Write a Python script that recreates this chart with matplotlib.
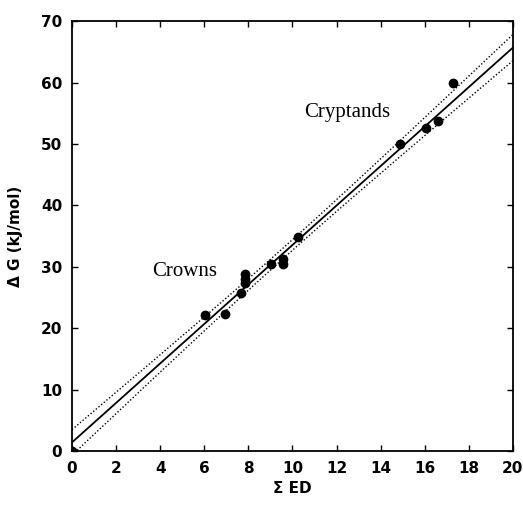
import numpy as np
import matplotlib
matplotlib.use("Agg")
import matplotlib.pyplot as plt

# Sum of ED values and binding free energies
sum_ed = [0.0, 6.05, 6.95, 7.67, 7.86, 7.86, 7.86, 9.03, 9.56, 9.56, 10.24,
          14.9, 16.08, 16.58, 17.26]
delta_g = [0.0, 22.1, 22.3, 25.7, 28.8, 28.0, 27.4, 30.5, 31.3, 30.5, 34.8,
           50.0, 52.6, 53.8, 60.0]

# fitted line
fit_intercept = 1.4
fit_slope = 3.215

x = np.array(sum_ed)
y = np.array(delta_g)

# 95% confidence band of the mean around the fitted line
n = len(x)
resid = y - (fit_slope * x + fit_intercept)
s = np.sqrt(np.sum(resid ** 2) / (n - 2))
sxx = np.sum((x - x.mean()) ** 2)
t_val = 2.3
xf = np.linspace(0, 20, 200)
yf = fit_slope * xf + fit_intercept
half = t_val * s * np.sqrt(1.0 / n + (xf - x.mean()) ** 2 / sxx)

fig = plt.figure(figsize=(5.23, 5.05), dpi=100)
ax = fig.add_axes([0.1377, 0.107, 0.843, 0.851])

ax.plot(xf, yf, color="black", lw=1.3)
ax.plot(xf, yf + half, color="black", lw=1.0, ls=(0, (1, 1.5)))
ax.plot(xf, yf - half, color="black", lw=1.0, ls=(0, (1, 1.5)))
ax.plot(x, y, "o", color="black", ms=6)

ax.set_xlim(0, 20)
ax.set_ylim(0, 70)
ax.set_xticks(np.arange(0, 21, 2))
ax.set_yticks(np.arange(0, 71, 10))
ax.tick_params(direction="in", top=True, right=True, length=4, width=1,
               labelsize=11, pad=7)
for lab in ax.get_xticklabels() + ax.get_yticklabels():
    lab.set_fontweight("bold")
for sp in ax.spines.values():
    sp.set_linewidth(1.3)

ax.set_xlabel("\u03a3 ED", fontsize=11, fontweight="bold", labelpad=4)
ax.set_ylabel("\u0394 G (kJ/mol)", fontsize=11, fontweight="bold", labelpad=13)

ax.text(3.62, 29.2, "Crowns", family="Liberation Serif", fontsize=15, va="center")
ax.text(10.55, 55.2, "Cryptands", family="Liberation Serif", fontsize=15, va="center")

fig.savefig("out.png", dpi=100)
